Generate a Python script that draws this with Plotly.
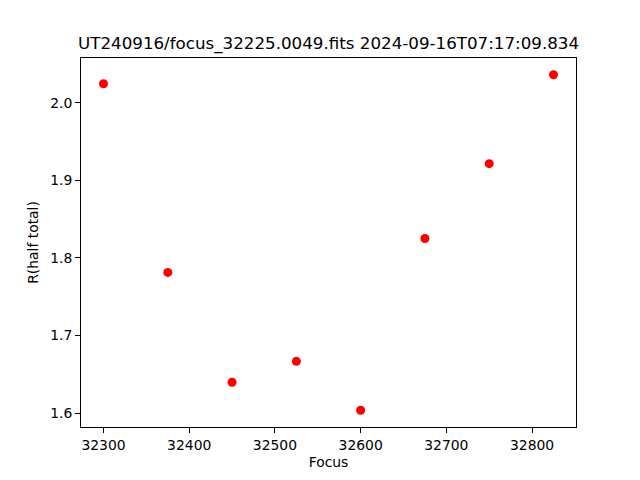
import plotly.graph_objects as go

focus = [32300, 32375, 32450, 32525, 32600, 32675, 32750, 32825]
r_half = [2.0244, 1.7814, 1.6399, 1.6669, 1.6039, 1.8251, 1.9215, 2.0360]
title = "UT240916/focus_32225.0049.fits 2024-09-16T07:17:09.834"
x_ticks = [32300, 32400, 32500, 32600, 32700, 32800]
y_ticks = [1.6, 1.7, 1.8, 1.9, 2.0]

font = "DejaVu Sans"
fig = go.Figure(go.Scatter(x=focus, y=r_half, mode="markers",
                           marker=dict(color="red", size=9, line=dict(width=0))))

axis_common = dict(showline=True, linecolor="black", linewidth=1, mirror=True,
                   ticks="outside", ticklen=5, tickwidth=1, tickcolor="black",
                   showgrid=False, zeroline=False, automargin=False,
                   tickfont=dict(family=font, size=13.9, color="black"))
fig.update_xaxes(range=[32273.75, 32851.25], tickvals=x_ticks,
                 ticktext=[str(v) for v in x_ticks],
                 title=dict(text="Focus", font=dict(family=font, size=13.9, color="black"), standoff=5),
                 **axis_common)
fig.update_yaxes(range=[1.5823, 2.0576], tickvals=y_ticks,
                 ticktext=[f"{v:.1f}" for v in y_ticks],
                 title=dict(text="R(half total)", font=dict(family=font, size=13.9, color="black"), standoff=8),
                 **axis_common)
fig.update_layout(
    width=640, height=480,
    margin=dict(l=73, r=72, t=50, b=61, autoexpand=False),
    paper_bgcolor="white", plot_bgcolor="white",
    showlegend=False,
    annotations=[dict(text=title, xref="paper", yref="paper", x=0.5, y=1.0,
                      xanchor="center", yanchor="bottom", yshift=2, showarrow=False,
                      font=dict(family=font, size=16.7, color="black"))],
)
fig.write_html("out.html")
